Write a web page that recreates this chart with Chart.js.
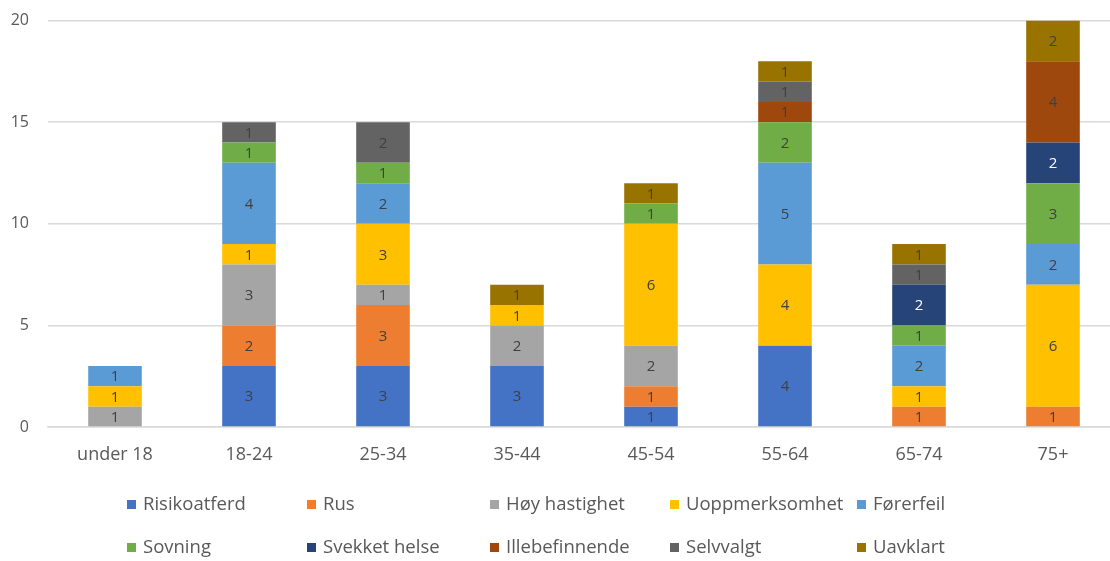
<!DOCTYPE html>
<html>
<head>
<meta charset="utf-8">
<script src="https://cdn.jsdelivr.net/npm/chart.js@4/dist/chart.umd.min.js"></script>
<style>
  html, body { margin: 0; padding: 0; background: #fff; }
  #wrap { width: 1110px; height: 561px; overflow: hidden; position: relative; }
  canvas { display: block; margin-top: -8px; }
</style>
</head>
<body>
<div id="wrap"><canvas id="c" width="1124" height="569"></canvas></div>
<script>
// Age groups on the x axis
const ageGroups = ['under 18', '18-24', '25-34', '35-44', '45-54', '55-64', '65-74', '75+'];

// Counts per cause, one entry per age group (null = none)
const risikoatferd   = [null, 3, 3, 3, 1, 4, null, null];
const rus            = [null, 2, 3, null, 1, null, 1, 1];
const hoyHastighet   = [1, 3, 1, 2, 2, null, null, null];
const uoppmerksomhet = [1, 1, 3, 1, 6, 4, 1, 6];
const forerfeil      = [1, 4, 2, null, null, 5, 2, 2];
const sovning        = [null, 1, 1, null, 1, 2, 1, 3];
const svekketHelse   = [null, null, null, null, null, null, 2, 2];
const illebefinnende = [null, null, null, null, null, 1, null, 4];
const selvvalgt      = [null, 1, 2, null, null, 1, 1, null];
const uavklart       = [null, null, null, 1, 1, 1, 1, 2];

// Value axis ticks
const yTicks = [0, 5, 10, 15, 20];

const series = [
  { label: 'Risikoatferd',   data: risikoatferd,   color: '#4472C4' },
  { label: 'Rus',            data: rus,            color: '#ED7D31' },
  { label: 'Høy hastighet',  data: hoyHastighet,   color: '#A5A5A5' },
  { label: 'Uoppmerksomhet', data: uoppmerksomhet, color: '#FFC000' },
  { label: 'Førerfeil',      data: forerfeil,      color: '#5B9BD5' },
  { label: 'Sovning',        data: sovning,        color: '#70AD47' },
  { label: 'Svekket helse',  data: svekketHelse,   color: '#264478', labelColor: '#ffffff' },
  { label: 'Illebefinnende', data: illebefinnende, color: '#9E480E' },
  { label: 'Selvvalgt',      data: selvvalgt,      color: '#636363' },
  { label: 'Uavklart',       data: uavklart,       color: '#997300' }
];

const FONT = '"Open Sans", "DejaVu Sans", sans-serif';

// Writes each segment's value in the middle of the segment
const segmentLabels = {
  id: 'segmentLabels',
  afterDatasetsDraw(chart) {
    const ctx = chart.ctx;
    ctx.save();
    ctx.font = '15px ' + FONT;
    ctx.textAlign = 'center';
    ctx.textBaseline = 'middle';
    chart.data.datasets.forEach((ds, di) => {
      const meta = chart.getDatasetMeta(di);
      meta.data.forEach((bar, i) => {
        const v = ds.data[i];
        if (v === null || v === undefined || v === 0) return;
        ctx.fillStyle = ds.valueColor || '#404040';
        ctx.fillText(String(v), bar.x, (bar.y + bar.base) / 2 + 1);
      });
    });
    ctx.restore();
  }
};

// Legend laid out as a two-row grid under the plot
const gridLegend = {
  id: 'gridLegend',
  afterDraw(chart) {
    const ctx = chart.ctx;
    const colX = [127, 307, 490, 670, 857];
    const rowY = [513, 556];
    ctx.save();
    ctx.font = '18.5px ' + FONT;
    ctx.textBaseline = 'middle';
    ctx.textAlign = 'left';
    chart.data.datasets.forEach((ds, i) => {
      const x = colX[i % 5];
      const y = rowY[Math.floor(i / 5)];
      ctx.fillStyle = ds.backgroundColor;
      ctx.fillRect(x, y - 5, 9, 9);
      ctx.fillStyle = '#595959';
      ctx.fillText(ds.label, x + 16, y);
    });
    ctx.restore();
  }
};

new Chart(document.getElementById('c'), {
  type: 'bar',
  data: {
    labels: ageGroups,
    datasets: series.map(s => ({
      label: s.label,
      data: s.data,
      backgroundColor: s.color,
      borderWidth: 0,
      valueColor: s.labelColor,
      barPercentage: 0.4,
      categoryPercentage: 1.0
    }))
  },
  options: {
    responsive: false,
    animation: false,
    layout: { padding: { top: 0, right: 4, bottom: 84, left: 0 } },
    plugins: {
      legend: { display: false },
      tooltip: { enabled: false }
    },
    scales: {
      x: {
        stacked: true,
        grid: { display: false, drawTicks: false },
        border: { display: true, color: '#d9d9d9', width: 1.5 },
        ticks: { color: '#595959', font: { family: FONT, size: 18 }, padding: 17 },
        afterFit(scale) { scale.height = 50; }
      },
      y: {
        stacked: true,
        min: 0,
        max: 20,
        afterBuildTicks(scale) { scale.ticks = yTicks.map(v => ({ value: v })); },
        grid: { color: '#d9d9d9', lineWidth: 1.5, drawTicks: false },
        border: { display: false },
        ticks: { color: '#595959', font: { family: FONT, size: 16 }, padding: 19 },
        afterFit(scale) { scale.width = 48; }
      }
    }
  },
  plugins: [segmentLabels, gridLegend]
});
</script>
</body>
</html>
